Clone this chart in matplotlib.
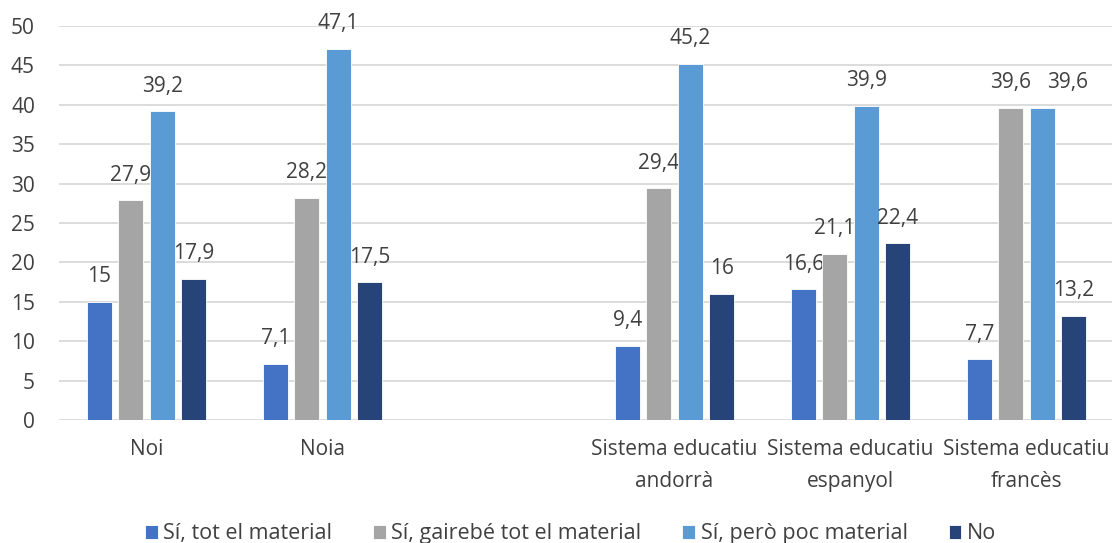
import matplotlib
matplotlib.use("Agg")
import matplotlib.pyplot as plt
import numpy as np

plt.rcParams["font.family"] = ["Open Sans", "DejaVu Sans"]

categories = ["Noi", "Noia", "", "Sistema educatiu\nandorrà",
              "Sistema educatiu\nespanyol", "Sistema educatiu\nfrancès"]
series_names = ["Sí, tot el material", "Sí, gairebé tot el material",
                "Sí, però poc material", "No"]
tot = [15, 7.1, np.nan, 9.4, 16.6, 7.7]
gairebe = [27.9, 28.2, np.nan, 29.4, 21.1, 39.6]
poc = [39.2, 47.1, np.nan, 45.2, 39.9, 39.6]
no = [17.9, 17.5, np.nan, 16, 22.4, 13.2]
colors = ["#4472C4", "#A5A5A5", "#5B9BD5", "#264478"]

TEXT = "#404040"

fig = plt.figure(figsize=(11.12, 5.43), dpi=100)
ax = fig.add_axes([58.5 / 1112, 1 - 420 / 543, 1056 / 1112, 394 / 543])

x = np.arange(len(categories))
step = 0.179
width = 0.14
for i, (vals, name, col) in enumerate(zip([tot, gairebe, poc, no], series_names, colors)):
    pos = x + (i - 1.5) * step
    ax.bar(pos, vals, width=width, color=col, edgecolor="white",
           linewidth=0.6, label=name, zorder=3)
    for j, (p, v) in enumerate(zip(pos, vals)):
        if np.isnan(v):
            continue
        txt = f"{v:g}".replace(".", ",")
        # the two 39,6 labels in the last group collide, push one aside
        dx = 18 if (i == 2 and j == 5) else 0
        ax.annotate(txt, (p, v), xytext=(dx, 10.5), textcoords="offset points",
                    ha="center", va="bottom", fontsize=15, color=TEXT)

ax.set_xlim(-0.5, 5.5)
ax.set_ylim(0, 50)
ax.set_yticks(np.arange(0, 51, 5))
ax.set_xticks(x)
ax.set_xticklabels(categories, fontsize=15, color=TEXT, linespacing=1.65)
ax.tick_params(axis="y", labelsize=15, labelcolor=TEXT, length=0, pad=17)
ax.tick_params(axis="x", length=0, pad=14)
ax.grid(axis="y", color="#D9D9D9", linewidth=1.3, zorder=0)
for s in ax.spines.values():
    s.set_visible(False)

fig.legend(loc="lower center", bbox_to_anchor=(0.513, -0.038), ncol=4,
           frameon=False, fontsize=15.5, handlelength=0.6, handleheight=0.6,
           handletextpad=0.25, columnspacing=1.9, labelcolor=TEXT)

fig.savefig("out.png", dpi=100)
